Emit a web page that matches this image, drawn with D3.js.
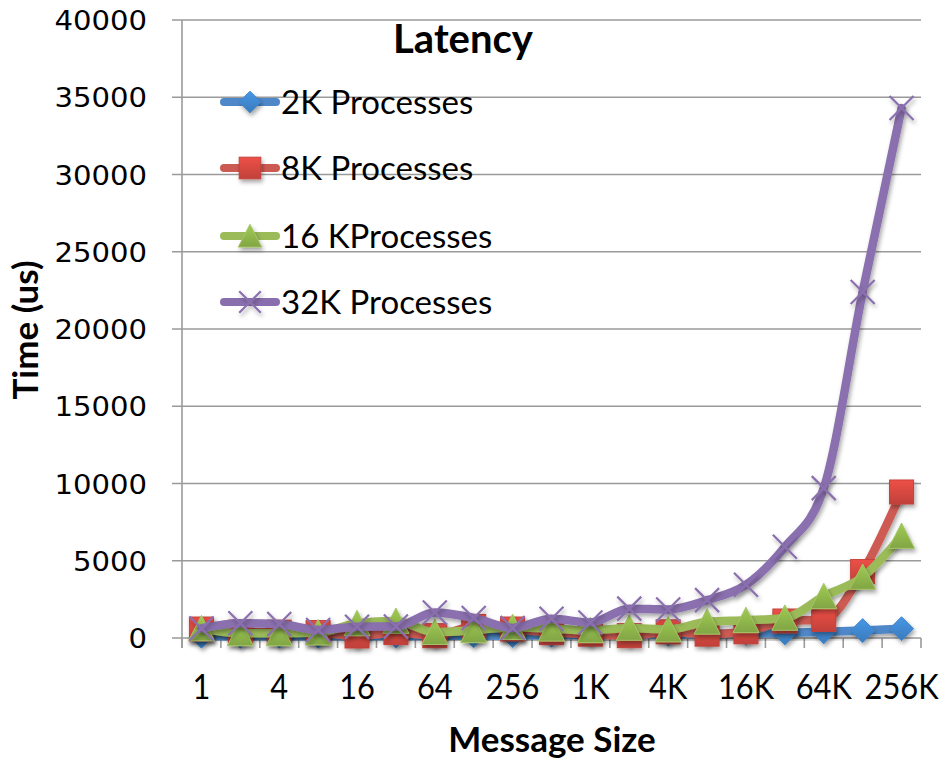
<!DOCTYPE html>
<html><head><meta charset="utf-8">
<script src="https://cdn.jsdelivr.net/npm/d3@7"></script>
<style>body{margin:0;background:#fff}</style>
</head><body><svg id="c" width="942" height="761"></svg>
<script>
const categories = ["1","2","4","8","16","32","64","128","256","512","1K","2K","4K","8K","16K","32K","64K","128K","256K"];
const shownLabels = ["1","4","16","64","256","1K","4K","16K","64K","256K"];
const seriesNames = ["2K Processes","8K Processes","16 KProcesses","32K Processes"];
const s2K  = [120,110,110,110,120,130,140,150,160,180,200,220,240,260,300,330,400,480,600];
const s8K  = [580,380,380,350,130,350,150,750,580,350,250,150,400,250,400,1100,1200,4300,9450];
const s16K = [620,300,300,350,950,1100,380,500,700,600,500,650,550,1050,1150,1300,2700,3950,6600];
const s32K = [620,950,900,520,730,750,1650,1300,650,1250,1000,1900,1850,2450,3450,5900,9700,22400,34300];
const yTicks = [0,5000,10000,15000,20000,25000,30000,35000,40000];
const lineColors = ["#4f88c9","#cd5a52","#9bbb59","#8a6fae"];
const markerColors = ["#3f85cc","#d2473f","#8db44a","#8a6fae"];
const markers = ["diamond","square","triangle","x"];
const allSeries = [s2K,s8K,s16K,s32K];

const svg = d3.select("#c");
const L=182, R=921, T=20, B=638;
const x = d3.scaleBand().domain(categories).range([L,R]);
const y = d3.scaleLinear().domain([0,40000]).range([B,T]);

const defs = svg.append("defs");
const f = defs.append("filter").attr("id","sh").attr("x","-50%").attr("y","-50%").attr("width","200%").attr("height","200%");
f.append("feDropShadow").attr("dx",1.5).attr("dy",3).attr("stdDeviation",2).attr("flood-color","#000").attr("flood-opacity",0.35);
markerColors.forEach((c,i)=>{
  const g = defs.append("linearGradient").attr("id","g"+i).attr("x1",0).attr("y1",0).attr("x2",0).attr("y2",1);
  g.append("stop").attr("offset","0%").attr("stop-color",d3.color(c).brighter(0.35));
  g.append("stop").attr("offset","100%").attr("stop-color",d3.color(c).darker(0.25));
});

// gridlines
svg.append("g").selectAll("line").data(yTicks).join("line")
  .attr("x1",L-10).attr("x2",R).attr("y1",d=>y(d)).attr("y2",d=>y(d))
  .attr("stroke","#9a9a9a").attr("stroke-width",1.6);
// y axis line
svg.append("line").attr("x1",L).attr("x2",L).attr("y1",T).attr("y2",B+10).attr("stroke","#9a9a9a").attr("stroke-width",1.6);
// x axis ticks at band boundaries
const bounds = categories.map(c=>x(c)).concat([R]);
svg.append("g").selectAll("line").data(bounds).join("line")
  .attr("x1",d=>d).attr("x2",d=>d).attr("y1",B).attr("y2",B+10)
  .attr("stroke","#9a9a9a").attr("stroke-width",1.6);

// y tick labels (wide)
svg.append("g").selectAll("text").data(yTicks).join("text")
  .attr("transform",d=>`translate(147,${y(d)+10}) scale(1.12,1)`).attr("text-anchor","end")
  .attr("font-family","DejaVu Sans").attr("font-size",26).attr("fill","#000")
  .text(d=>d);
// x tick labels (tall, narrow)
svg.append("g").selectAll("text").data(shownLabels).join("text")
  .attr("transform",d=>`translate(${x(d)+x.bandwidth()/2},699) scale(0.88,1)`).attr("text-anchor","middle")
  .attr("font-family","Lato").attr("font-size",35).attr("fill","#000")
  .text(d=>d);

// axis titles
svg.append("text").attr("transform","translate(38,330) rotate(-90)").attr("text-anchor","middle")
  .attr("font-family","Lato").attr("font-weight","bold").attr("font-size",35).text("Time (us)");
svg.append("text").attr("x",552).attr("y",752).attr("text-anchor","middle")
  .attr("font-family","Lato").attr("font-weight","bold").attr("font-size",35).text("Message Size");

function drawMarker(g, type, cx, cy, i, scale){
  const s = scale||1;
  if(type==="diamond"){
    const r=12*s;
    g.append("path").attr("d",`M${cx},${cy-r}L${cx+r},${cy}L${cx},${cy+r}L${cx-r},${cy}Z`)
      .attr("fill",`url(#g${i})`).attr("stroke",markerColors[i]).attr("stroke-width",1).attr("filter","url(#sh)");
  } else if(type==="square"){
    const r=12*s;
    g.append("rect").attr("x",cx-r).attr("y",cy-r).attr("width",2*r).attr("height",2*r)
      .attr("fill",`url(#g${i})`).attr("stroke",d3.color(markerColors[i]).darker(0.2)).attr("stroke-width",1).attr("filter","url(#sh)");
  } else if(type==="triangle"){
    const r=13*s;
    g.append("path").attr("d",`M${cx},${cy-r}L${cx+r},${cy+r*0.95}L${cx-r},${cy+r*0.95}Z`)
      .attr("fill",`url(#g${i})`).attr("stroke","#a6c46a").attr("stroke-width",1).attr("filter","url(#sh)");
  } else {
    const r=12*s;
    g.append("path").attr("d",`M${cx-r},${cy-r}L${cx+r},${cy+r}M${cx-r},${cy+r}L${cx+r},${cy-r}`)
      .attr("stroke",markerColors[i]).attr("stroke-width",2.2).attr("fill","none").attr("filter","url(#sh)");
  }
}

const line = d3.line().x((d,j)=>x(categories[j])+x.bandwidth()/2).y(d=>y(d)).curve(d3.curveMonotoneX);
allSeries.forEach((data,i)=>{
  const g = svg.append("g");
  g.append("path").datum(data).attr("d",line).attr("fill","none")
    .attr("stroke",lineColors[i]).attr("stroke-width",8.5).attr("stroke-linejoin","round").attr("stroke-linecap","round")
    .attr("filter","url(#sh)");
  data.forEach((v,j)=>drawMarker(g, markers[i], x(categories[j])+x.bandwidth()/2, y(v), i));
});

// title
svg.append("text").attr("x",463).attr("y",53).attr("text-anchor","middle")
  .attr("font-family","Lato").attr("font-weight","bold").attr("font-size",40).text("Latency");

// legend
const legY = [102,168,236,302];
seriesNames.forEach((n,i)=>{
  const g = svg.append("g");
  g.append("line").attr("x1",224).attr("x2",276).attr("y1",legY[i]).attr("y2",legY[i])
    .attr("stroke",lineColors[i]).attr("stroke-width",8).attr("stroke-linecap","round");
  drawMarker(g, markers[i], 250, legY[i], i, 0.9);
  g.append("text").attr("x",281).attr("y",legY[i]+12).attr("font-family","Lato").attr("font-size",33).text(n);
});
</script></body></html>
